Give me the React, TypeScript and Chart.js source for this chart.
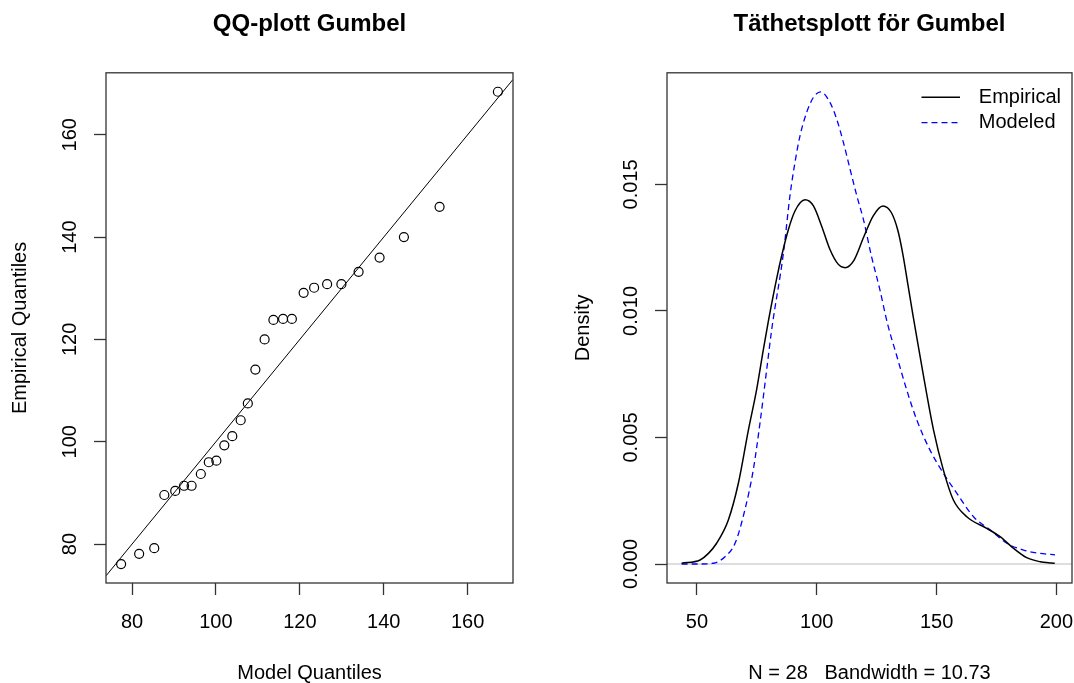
import React, { useEffect, useRef } from 'react';
import { Chart, registerables } from 'chart.js';

Chart.register(...registerables);

const FONT = "'Liberation Sans', Arial, Helvetica, sans-serif";

// ---------- QQ plot (left) ----------
const qqTitle = 'QQ-plott Gumbel';
const qqXLabel = 'Model Quantiles';
const qqYLabel = 'Empirical Quantiles';
const modelQuantiles = [
  77.4, 81.7, 85.3, 87.7, 90.3, 92.4, 94.2, 96.4, 98.3, 100.1, 102.0, 103.9, 105.9, 107.6,
  109.4, 111.6, 113.7, 116.0, 118.1, 120.9, 123.4, 126.5, 129.9, 134.0, 139.0, 144.8, 153.3, 167.2,
];
const empiricalQuantiles = [
  76.1, 78.1, 79.2, 89.6, 90.4, 91.4, 91.4, 93.7, 96.0, 96.3, 99.3, 101.1, 104.2, 107.5,
  114.1, 120.0, 123.8, 124.0, 124.0, 129.1, 130.1, 130.8, 130.8, 133.2, 136.0, 140.0, 145.9, 168.4,
];
const qqXRange = [73.8, 170.8];
const qqYRange = [72.4, 172.1];
const qqXTicks = [80, 100, 120, 140, 160];
const qqYTicks = [80, 100, 120, 140, 160];

// ---------- Density plot (right) ----------
const densTitle = 'Täthetsplott för Gumbel';
const densXLabel = 'N = 28   Bandwidth = 10.73';
const densYLabel = 'Density';
const seriesNames = ['Empirical', 'Modeled'];
const empX = [
  43.6, 51.3, 54.8, 58.2, 63.1, 67.3, 71.5, 74.9, 77.7, 79.8, 83.3, 85.4, 88.1, 90.9, 95.1,
  98.6, 102.0, 105.5, 109.0, 111.8, 115.5, 119.5, 123.5, 127.6, 131.1, 133.9, 136.0, 138.1,
  140.2, 142.2, 144.4, 148.7, 152.8, 157.0, 162.6, 170.9, 176.5, 182.1, 187.6, 193.2, 198.0, 199.3,
];
const empY = [
  0.00003, 0.00016, 0.00042, 0.00082, 0.00174, 0.0032, 0.00531, 0.00689, 0.00847, 0.0096,
  0.0113, 0.0122, 0.0132, 0.01395, 0.01439, 0.01415, 0.01336, 0.01243, 0.01184, 0.01171,
  0.012, 0.0129, 0.01375, 0.01415, 0.01389, 0.01316, 0.0122, 0.011, 0.0098, 0.0087,
  0.0075, 0.0053, 0.00372, 0.00253, 0.00187, 0.00141, 0.00108, 0.00062, 0.00025, 0.00009,
  0.00004, 0.00003,
];
const modX = [
  43.6, 50.2, 56.8, 61.7, 65.9, 70.0, 73.5, 76.3, 79.1, 81.2, 86.1, 88.8, 90.9, 93.0, 95.8,
  98.6, 101.6, 105.5, 108.3, 111.1, 113.9, 116.7, 119.5, 122.8, 126.3, 129.5, 133.3, 137.5,
  141.7, 147.2, 152.8, 158.4, 165.4, 172.3, 179.3, 186.3, 193.2, 199.4,
];
const modY = [
  0, 0, 0.00003, 0.00029, 0.00082, 0.00214, 0.00372, 0.00557, 0.00768, 0.00927, 0.0123,
  0.01455, 0.01587, 0.01692, 0.01785, 0.01844, 0.01866, 0.01824, 0.01758, 0.01666, 0.0156,
  0.01455, 0.0136, 0.01217, 0.01085, 0.0095, 0.00825, 0.00689, 0.0057, 0.00451, 0.00359,
  0.0028, 0.00187, 0.00135, 0.00082, 0.00055, 0.00042, 0.00036,
];
const densXRange = [37.5, 206.5];
const densYRange = [-0.00075, 0.01941];
const densXTicks = [50, 100, 150, 200];
const densYTicks = [0, 0.005, 0.01, 0.015];

// ---------- helpers ----------
const boxPlugin = {
  id: 'rbox',
  afterDatasetsDraw(chart: any) {
    const { ctx, chartArea: a } = chart;
    ctx.save();
    ctx.strokeStyle = '#333';
    ctx.lineWidth = 1.3;
    ctx.setLineDash([]);
    ctx.strokeRect(a.left, a.top, a.right - a.left, a.bottom - a.top);
    ctx.restore();
  },
};

const zeroLinePlugin = {
  id: 'zeroLine',
  beforeDatasetsDraw(chart: any) {
    const { ctx, chartArea: a, scales } = chart;
    const y = scales.y.getPixelForValue(0);
    ctx.save();
    ctx.strokeStyle = '#bebebe';
    ctx.lineWidth = 1.2;
    ctx.beginPath();
    ctx.moveTo(a.left, y);
    ctx.lineTo(a.right, y);
    ctx.stroke();
    ctx.restore();
  },
};

const legendPlugin = {
  id: 'rlegend',
  afterDatasetsDraw(chart: any) {
    const { ctx, chartArea: a } = chart;
    ctx.save();
    chart.data.datasets.forEach((ds: any, i: number) => {
      const y = a.top + 24.5 + i * 25.4;
      const x0 = a.right - 150.5;
      const x1 = x0 + 38.5;
      ctx.strokeStyle = ds.borderColor;
      ctx.lineWidth = ds.borderWidth;
      ctx.setLineDash(ds.borderDash || []);
      ctx.beginPath();
      ctx.moveTo(x0, y);
      ctx.lineTo(x1, y);
      ctx.stroke();
      ctx.setLineDash([]);
      ctx.fillStyle = '#000';
      ctx.font = `20px ${FONT}`;
      ctx.textBaseline = 'middle';
      ctx.textAlign = 'left';
      ctx.fillText(ds.label, x0 + 57.3, y);
    });
    ctx.restore();
  },
};

const gridCfg = {
  display: true,
  drawOnChartArea: false,
  drawTicks: true,
  tickLength: 12,
  tickColor: '#333',
  tickWidth: 1.3,
};

function xAxis(range: number[], ticks: number[], label: string, fmt: (v: number) => string) {
  return {
    type: 'linear',
    position: 'bottom',
    min: range[0],
    max: range[1],
    afterBuildTicks: (s: any) => {
      s.ticks = ticks.map((v) => ({ value: v }));
    },
    afterFit: (s: any) => {
      s.height = 100;
      s.paddingLeft = 0;
      s.paddingRight = 0;
    },
    ticks: {
      color: '#000',
      padding: 15,
      maxRotation: 0,
      minRotation: 0,
      autoSkip: false,
      font: { family: FONT, size: 20 },
      callback: (v: any) => fmt(Number(v)),
    },
    grid: gridCfg,
    border: { display: false },
    title: {
      display: true,
      text: label,
      color: '#000',
      font: { family: FONT, size: 20, lineHeight: 1.2 },
      padding: { top: 0, bottom: -2 },
    },
  };
}

function yAxis(
  range: number[],
  ticks: number[],
  label: string,
  fmt: (v: number) => string,
  width: number,
  labelPad: number,
  titlePad: number,
) {
  return {
    type: 'linear',
    position: 'left',
    min: range[0],
    max: range[1],
    afterBuildTicks: (s: any) => {
      s.ticks = ticks.map((v) => ({ value: v }));
    },
    afterFit: (s: any) => {
      s.width = width;
      s.paddingTop = 0;
      s.paddingBottom = 0;
    },
    ticks: {
      color: '#000',
      padding: labelPad,
      minRotation: 90,
      maxRotation: 90,
      crossAlign: 'center',
      autoSkip: false,
      font: { family: FONT, size: 20 },
      callback: (v: any) => fmt(Number(v)),
    },
    grid: gridCfg,
    border: { display: false },
    title: {
      display: true,
      text: label,
      color: '#000',
      font: { family: FONT, size: 20, lineHeight: 1.2 },
      padding: { top: titlePad, bottom: 0 },
    },
  };
}

function titleCfg(text: string) {
  return {
    display: true,
    text,
    color: '#000',
    fullSize: false,
    font: { family: FONT, size: 24, weight: 'bold', lineHeight: 1.2 },
    padding: { top: 10, bottom: 34 },
  };
}

export default function App() {
  const leftRef = useRef<HTMLCanvasElement>(null);
  const rightRef = useRef<HTMLCanvasElement>(null);

  useEffect(() => {
    document.body.style.margin = '0';
    const qqPoints = modelQuantiles.map((x, i) => ({ x, y: empiricalQuantiles[i] }));
    const refLine = qqXRange.map((x) => ({ x, y: x }));

    const left = new Chart(leftRef.current as HTMLCanvasElement, {
      type: 'scatter',
      data: {
        datasets: [
          {
            label: 'qq',
            data: qqPoints,
            pointStyle: 'circle',
            pointRadius: 4.5,
            pointBorderWidth: 1.2,
            borderColor: '#000',
            backgroundColor: 'rgba(0,0,0,0)',
            pointBackgroundColor: 'rgba(0,0,0,0)',
            pointBorderColor: '#000',
          },
          {
            label: 'ref',
            data: refLine,
            showLine: true,
            pointRadius: 0,
            borderColor: '#000',
            borderWidth: 1,
          },
        ],
      } as any,
      options: {
        responsive: false,
        maintainAspectRatio: false,
        animation: false,
        devicePixelRatio: 1,
        events: [],
        layout: { padding: { left: 0, right: 24, top: 0, bottom: 0 } },
        plugins: {
          legend: { display: false },
          tooltip: { enabled: false },
          title: titleCfg(qqTitle) as any,
        },
        scales: {
          x: xAxis(qqXRange, qqXTicks, qqXLabel, (v) => String(v)) as any,
          y: yAxis(qqYRange, qqYTicks, qqYLabel, (v) => String(v), 106, 7.3, 8) as any,
        },
      },
      plugins: [boxPlugin],
    });

    const right = new Chart(rightRef.current as HTMLCanvasElement, {
      type: 'line',
      data: {
        datasets: [
          {
            label: seriesNames[0],
            data: empX.map((x, i) => ({ x, y: empY[i] })),
            borderColor: '#000',
            borderWidth: 1.5,
            pointRadius: 0,
            fill: false,
            cubicInterpolationMode: 'monotone',
          },
          {
            label: seriesNames[1],
            data: modX.map((x, i) => ({ x, y: modY[i] })),
            borderColor: '#0000ff',
            borderWidth: 1.3,
            borderDash: [6, 4],
            pointRadius: 0,
            fill: false,
            cubicInterpolationMode: 'monotone',
          },
        ],
      } as any,
      options: {
        responsive: false,
        maintainAspectRatio: false,
        animation: false,
        devicePixelRatio: 1,
        events: [],
        layout: { padding: { left: 0, right: 2, top: 0, bottom: 0 } },
        plugins: {
          legend: { display: false },
          tooltip: { enabled: false },
          title: titleCfg(densTitle) as any,
        },
        scales: {
          x: xAxis(densXRange, densXTicks, densXLabel, (v) => String(v)) as any,
          y: yAxis(densYRange, densYTicks, densYLabel, (v) => v.toFixed(3), 130, -2, 34) as any,
        },
      },
      plugins: [zeroLinePlugin, boxPlugin, legendPlugin],
    });

    return () => {
      left.destroy();
      right.destroy();
    };
  }, []);

  return (
    <div style={{ position: 'relative', width: 1074, height: 683, background: '#fff', overflow: 'hidden' }}>
      <canvas ref={leftRef} width={537} height={683} style={{ position: 'absolute', left: 0, top: 0 }} />
      <canvas ref={rightRef} width={537} height={683} style={{ position: 'absolute', left: 537, top: 0 }} />
    </div>
  );
}
